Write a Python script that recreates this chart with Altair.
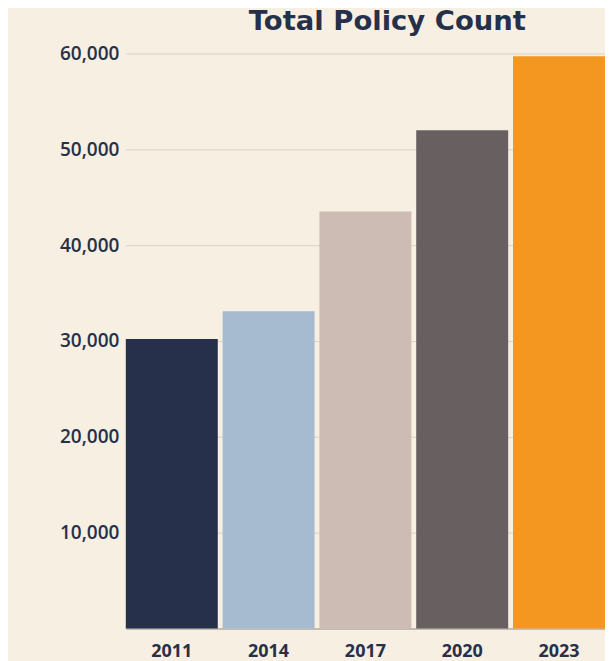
import altair as alt
import pandas as pd

years = ["2011", "2014", "2017", "2020", "2023"]
counts = [30200, 33100, 43500, 52000, 59700]
colors = ["#27304a", "#a6bbd0", "#cdbcb3", "#675f60", "#f39720"]
y_ticks = [10000, 20000, 30000, 40000, 50000, 60000]

df = pd.DataFrame({"year": years, "count": counts, "color": colors})

bg = "#f7efe1"
ink = "#27304a"
font = "Open Sans"

chart = alt.Chart(df).mark_bar().encode(
    x=alt.X("year:N", sort=years,
            scale=alt.Scale(paddingInner=0.05, paddingOuter=0),
            axis=alt.Axis(title=None, labelAngle=0, ticks=False,
                          domainColor="#b5aca4", domainWidth=1.5,
                          labelPadding=14, labelFontSize=18,
                          labelFontWeight=700)),
    y=alt.Y("count:Q", scale=alt.Scale(domain=[0, 60000], nice=False),
            axis=alt.Axis(title=None, values=y_ticks, format=",d", ticks=False,
                          domain=False, labelPadding=7, labelFontSize=19,
                          labelFontWeight=600,
                          gridColor="#dcd3c4", gridWidth=1)),
    color=alt.Color("color:N", scale=None, legend=None),
).properties(
    width=480,
    height=576,
    padding={"left": 118, "top": 45, "right": 0, "bottom": 32},
    autosize=alt.AutoSizeParams(type="none"),
    title=alt.TitleParams("Total Policy Count", font="DejaVu Sans", fontSize=27.5,
                          fontWeight="bold", color=ink, anchor="middle",
                          dx=22, offset=9),
).configure(background=bg).configure_view(stroke=None).configure_axis(
    labelFont=font, labelColor=ink
)

chart.save("out.html", embed_options={"renderer": "svg", "actions": False})
